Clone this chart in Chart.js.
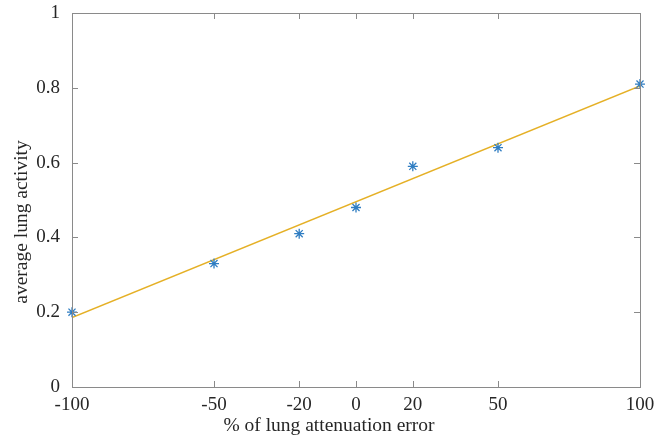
<!DOCTYPE html>
<html>
<head>
<meta charset="utf-8">
<script src="https://cdn.jsdelivr.net/npm/chart.js@4/dist/chart.umd.min.js"></script>
<style>
  html, body { margin: 0; padding: 0; background: #fff; }
</style>
</head>
<body>
<canvas id="chart" width="663" height="442"></canvas>
<script>
// measured values
const errorPct = [-100, -50, -20, 0, 20, 50, 100];
const lungActivity = [0.2, 0.33, 0.41, 0.48, 0.59, 0.64, 0.81];
const fitX = [-100, 100];
const fitY = [0.186, 0.805];
const xTicks = [-100, -50, -20, 0, 20, 50, 100];

const textColor = "#262626";
const boxColor = "#8a8a8a";
const serif = "'Liberation Serif', 'DejaVu Serif', serif";

// box around the plot, inward ticks and both axis labels
const boxPlugin = {
  id: "box",
  afterDraw(chart) {
    const ctx = chart.ctx;
    const a = chart.chartArea;
    const xs = chart.scales.x;
    const ys = chart.scales.y;
    const len = 6;
    ctx.save();
    ctx.strokeStyle = boxColor;
    ctx.lineWidth = 1;
    ctx.strokeRect(a.left + 0.5, a.top + 0.5, a.right - a.left, a.bottom - a.top);
    ctx.beginPath();
    xs.ticks.forEach((t) => {
      const px = Math.round(xs.getPixelForValue(t.value)) + 0.5;
      ctx.moveTo(px, a.bottom);
      ctx.lineTo(px, a.bottom - len);
      ctx.moveTo(px, a.top);
      ctx.lineTo(px, a.top + len);
    });
    ys.ticks.forEach((t) => {
      const py = Math.round(ys.getPixelForValue(t.value)) + 0.5;
      ctx.moveTo(a.left, py);
      ctx.lineTo(a.left + len, py);
      ctx.moveTo(a.right, py);
      ctx.lineTo(a.right - len, py);
    });
    ctx.stroke();

    ctx.fillStyle = textColor;
    ctx.font = "19.5px " + serif;
    ctx.textAlign = "center";
    ctx.textBaseline = "middle";
    ctx.fillText("% of lung attenuation error", 329, 426);
    ctx.translate(22, 222);
    ctx.rotate(-Math.PI / 2);
    ctx.fillText("average lung activity", 0, 0);
    ctx.restore();
  },
};

new Chart(document.getElementById("chart"), {
  type: "scatter",
  data: {
    datasets: [
      {
        label: "data",
        data: errorPct.map((x, i) => ({ x: x, y: lungActivity[i] })),
        pointStyle: "star",
        pointRadius: 5,
        borderColor: "#2f7dc2",
        backgroundColor: "#2f7dc2",
        borderWidth: 1.3,
        showLine: false,
        clip: false,
      },
      {
        label: "fit",
        data: fitX.map((x, i) => ({ x: x, y: fitY[i] })),
        borderColor: "#e5b026",
        borderWidth: 1.5,
        pointRadius: 0,
        showLine: true,
      },
    ],
  },
  options: {
    responsive: false,
    animation: false,
    layout: { padding: { top: 13, right: 23, left: 0, bottom: 0 } },
    plugins: {
      legend: { display: false },
      tooltip: { enabled: false },
    },
    scales: {
      x: {
        type: "linear",
        min: -100,
        max: 100,
        afterBuildTicks: (s) => {
          s.ticks = xTicks.map((v) => ({ value: v }));
        },
        afterFit: (s) => {
          s.height = 55;
          s.paddingLeft = 0;
          s.paddingRight = 0;
        },
        grid: { display: false, drawTicks: false },
        border: { display: false },
        ticks: {
          color: textColor,
          font: { family: serif, size: 19 },
          padding: 7,
          maxRotation: 0,
        },
      },
      y: {
        min: 0,
        max: 1,
        afterFit: (s) => {
          s.width = 72;
          s.paddingTop = 0;
          s.paddingBottom = 0;
        },
        grid: { display: false, drawTicks: false },
        border: { display: false },
        ticks: {
          stepSize: 0.2,
          color: textColor,
          font: { family: serif, size: 19 },
          padding: 12,
          callback: (v) => String(Number(v.toFixed(1))),
        },
      },
    },
  },
  plugins: [boxPlugin],
});
</script>
</body>
</html>
